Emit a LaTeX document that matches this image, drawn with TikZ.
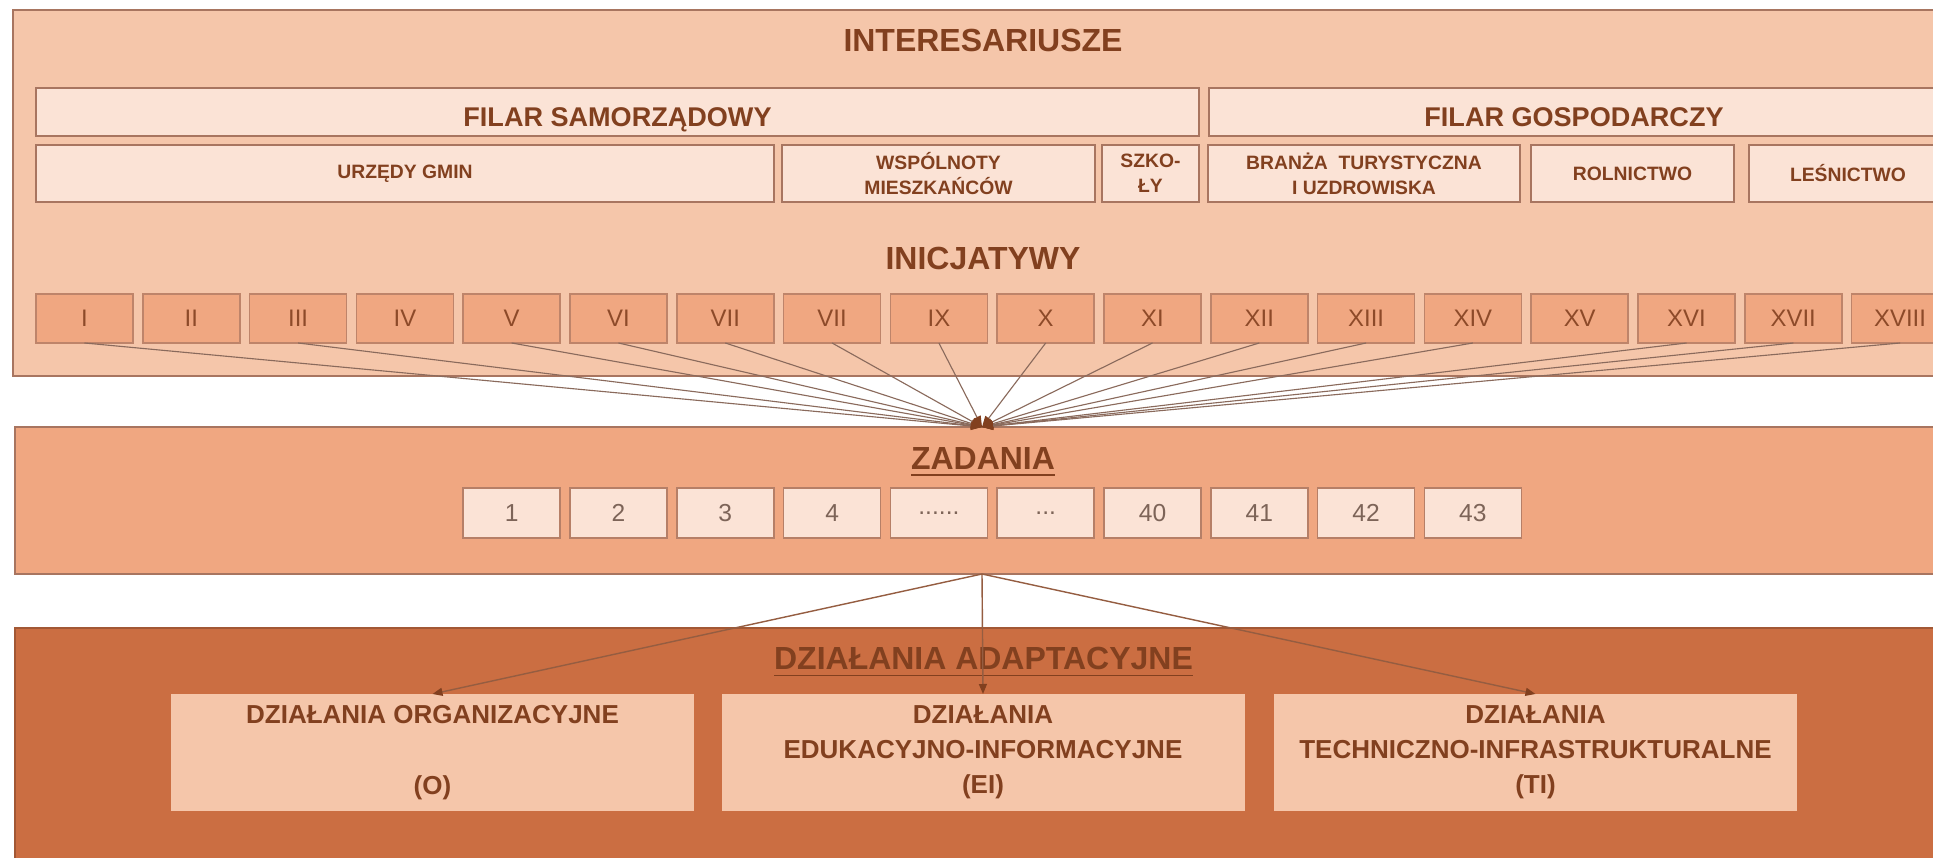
\documentclass[tikz,border=0pt]{standalone}
\usepackage{fontspec}
\setmainfont{Liberation Sans}
\usetikzlibrary{positioning,arrows.meta,calc}
\definecolor{brn}{HTML}{82401F}
\definecolor{edge}{HTML}{A87560}
\definecolor{peach}{HTML}{F5C6AA}
\definecolor{pale}{HTML}{FBE3D6}
\definecolor{salmon}{HTML}{F0A781}
\definecolor{rust}{HTML}{CB6E42}
\definecolor{link}{HTML}{8A6A5C}
\definecolor{numtxt}{HTML}{7D6458}
\tikzset{
  panel/.style={draw=edge, line width=0.6pt},
  title/.style={anchor=base, text=brn, font=\fontsize{9.1}{11}\selectfont\bfseries},
  pillar/.style={draw=edge, fill=pale, line width=0.55pt, minimum height=0.48cm,
                 text height=0.294cm, text depth=0pt,
                 inner sep=0pt, outer sep=0pt, text=brn, font=\fontsize{7.7}{9}\selectfont\bfseries},
  grp/.style={draw=edge, fill=pale, line width=0.55pt, minimum height=0.57cm,
              inner sep=0pt, outer sep=0pt, align=center, text=brn,
              font=\fontsize{5.5}{7.1}\selectfont\bfseries},
  ini/.style={draw=edge!70!salmon, fill=salmon, line width=0.45pt, minimum width=0.97cm,
              minimum height=0.49cm, inner sep=0pt, outer sep=0pt, text=brn!90!salmon,
              font=\fontsize{6.8}{8}\selectfont},
  task/.style={draw=edge!80!salmon, fill=pale, line width=0.5pt, minimum width=0.97cm,
               minimum height=0.50cm, inner sep=0pt, outer sep=0pt, text=numtxt,
               font=\fontsize{7}{8}\selectfont},
  act/.style={fill=peach, minimum width=5.23cm, minimum height=1.17cm, inner sep=0pt,
              outer sep=0pt, align=center, text=brn, font=\fontsize{7.4}{10}\selectfont\bfseries},
  feed/.style={draw=link, line width=0.32pt, -{Triangle[length=1.1mm,width=0.8mm,color=brn]}},
  flow/.style={draw=brn!85, line width=0.4pt, -{Triangle[length=1mm,width=0.8mm,color=brn]}},
}

\begin{document}
\begin{tikzpicture}
  \useasboundingbox (0,0) rectangle (19.33,-8.58);
  \fill[white] (0,0) rectangle (19.33,-8.58);
  \clip (0,0) rectangle (19.33,-8.58);

  % interesariusze
  \filldraw[panel, fill=peach] (0.13,-0.10) rectangle (19.7,-3.76);
  \node[title] (hint) at (9.83,-0.517) {INTERESARIUSZE};
  \node[pillar, minimum width=11.63cm] (fsam) at (6.175,-1.12) {FILAR SAMORZĄDOWY};
  \node[pillar, minimum width=7.30cm] (fgos) at (15.74,-1.12) {FILAR GOSPODARCZY};
  \node[grp, minimum width=7.38cm] (gmin) at (4.05,-1.735) {URZĘDY GMIN};
  \node[grp, minimum width=3.13cm] (wsp) at (9.385,-1.735) {WSPÓLNOTY\\MIESZKAŃCÓW};
  \node[grp, minimum width=0.97cm] (szk) at (11.505,-1.735) {SZKO-\\ŁY};
  \node[grp, minimum width=3.12cm] (tur) at (13.64,-1.735) {BRANŻA~~TURYSTYCZNA\\I UZDROWISKA};
  \node[grp, minimum width=2.03cm] (rol) at (16.325,-1.735) {ROLNICTWO};
  \node[grp, minimum width=1.98cm] (les) at (18.48,-1.735) {LEŚNICTWO};
  \node[title] (hini) at (9.83,-2.693) {INICJATYWY};
  \foreach \n [count=\k from 0] in {I,II,III,IV,V,VI,VII,VII,IX,X,XI,XII,XIII,XIV,XV,XVI,XVII,XVIII}
    \node[ini] (r\k) at ({0.845+1.068*\k},-3.185) {\n};

  % zadania
  \filldraw[panel, fill=salmon] (0.15,-4.27) rectangle (19.7,-5.74);
  \coordinate (hub) at (9.82,-4.27);
  \coordinate (zb) at (9.82,-5.74);
  \node[title] (hzad) at (9.83,-4.70) {\underline{ZADANIA}};
  \node[task] (t1) at (5.117,-5.13) {1};
  \node[task, right=0.098cm of t1] (t2) {2};
  \node[task, right=0.098cm of t2] (t3) {3};
  \node[task, right=0.098cm of t3] (t4) {4};
  \node[task, right=0.098cm of t4] (t5) {......};
  \node[task, right=0.098cm of t5] (t6) {...};
  \node[task, right=0.098cm of t6] (t7) {40};
  \node[task, right=0.098cm of t7] (t8) {41};
  \node[task, right=0.098cm of t8] (t9) {42};
  \node[task, right=0.098cm of t9] (t10) {43};

  \foreach \k in {0,2,4,5,6,7,8,9,10,11,12,13,15,16,17}
    \draw[feed] (r\k.south) -- (hub);

  % dzialania
  \filldraw[panel, fill=rust, draw=rust!80!black] (0.15,-6.28) rectangle (19.7,-8.9);
  \node[title] (hdz) at (9.835,-6.70) {\underline{DZIAŁANIA ADAPTACYJNE}};
  \node[act] (ao) at (4.325,-7.525) {DZIAŁANIA ORGANIZACYJNE\\~\\(O)};
  \node[act] (aei) at (9.83,-7.525) {DZIAŁANIA\\EDUKACYJNO-INFORMACYJNE\\(EI)};
  \node[act] (ati) at (15.355,-7.525) {DZIAŁANIA\\TECHNICZNO-INFRASTRUKTURALNE\\(TI)};
  \draw[flow] (zb) -- (ao.north);
  \draw[flow] (zb) -- (aei.north);
  \draw[flow] (zb) -- (ati.north);
\end{tikzpicture}
\end{document}
